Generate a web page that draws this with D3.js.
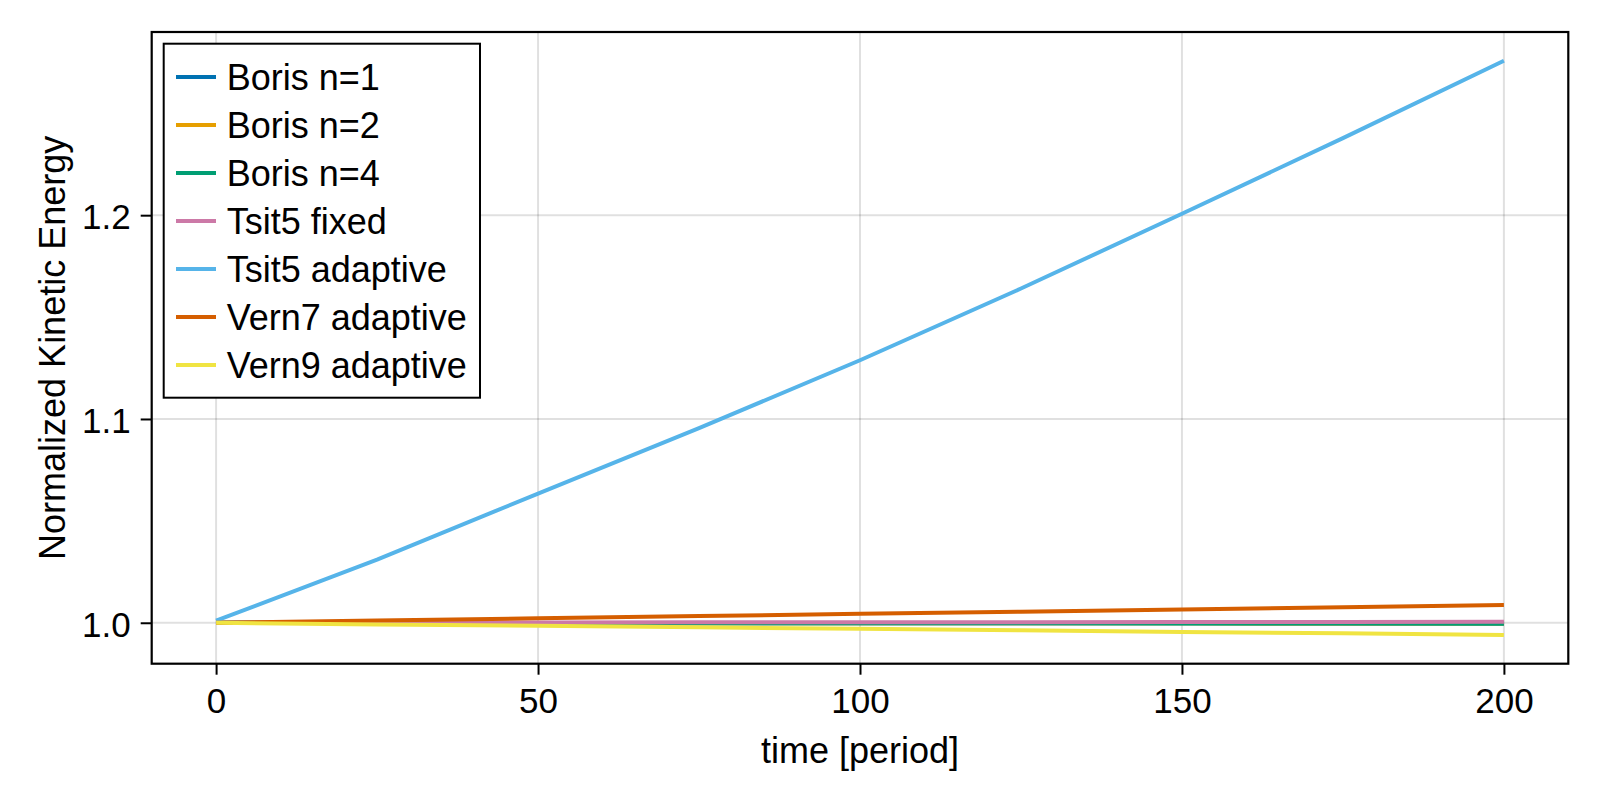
<!DOCTYPE html>
<html>
<head>
<meta charset="utf-8">
<script src="https://cdn.jsdelivr.net/npm/d3@7"></script>
<style>
  html, body { margin: 0; padding: 0; background: #fff; }
  svg { display: block; }
  text { font-family: "Liberation Sans", Arial, Helvetica, sans-serif; fill: #000; }
</style>
</head>
<body>
<svg id="chart" width="1600" height="800"></svg>
<script>
// ---- data ----
const time = [0, 25, 50, 75, 100, 125, 150, 175, 200];
const borisN1 = [1.0000, 1.0000, 0.9999, 0.9998, 0.9998, 0.9997, 0.9997, 0.9996, 0.9996];
const borisN2 = [1.0000, 1.0000, 0.9999, 0.9998, 0.9998, 0.9997, 0.9997, 0.9996, 0.9996];
const borisN4 = [1.0000, 0.9999, 0.9999, 0.9998, 0.9997, 0.9997, 0.9996, 0.9996, 0.9995];
const tsit5Fixed = [1.0000, 1.0001, 1.0001, 1.0002, 1.0003, 1.0003, 1.0004, 1.0004, 1.0005];
const tsit5Adaptive = [1.0010, 1.0310, 1.0634, 1.0955, 1.1288, 1.1640, 1.2007, 1.2378, 1.2758];
const vern7Adaptive = [1.0000, 1.0011, 1.0022, 1.0033, 1.0044, 1.0054, 1.0065, 1.0076, 1.0087];
const vern9Adaptive = [1.0000, 0.9992, 0.9985, 0.9978, 0.9970, 0.9963, 0.9955, 0.9948, 0.9940];

const seriesNames = ["Boris n=1", "Boris n=2", "Boris n=4", "Tsit5 fixed", "Tsit5 adaptive", "Vern7 adaptive", "Vern9 adaptive"];
const seriesValues = [borisN1, borisN2, borisN4, tsit5Fixed, tsit5Adaptive, vern7Adaptive, vern9Adaptive];
const seriesColors = ["#0072B2", "#E69F00", "#009E73", "#CC79A7", "#56B4E9", "#D55E00", "#F0E442"];

const xTicks = [0, 50, 100, 150, 200];
const yTicks = [1.0, 1.1, 1.2];
const xLabel = "time [period]";
const yLabel = "Normalized Kinetic Energy";

// ---- layout ----
const plot = { left: 151.7, top: 32, right: 1568.3, bottom: 663.7 };
const svg = d3.select("#chart");

const xMin = d3.min(time), xMax = d3.max(time);
const allY = seriesValues.flat();
const yMin = d3.min(allY), yMax = d3.max(allY);
const xPad = (xMax - xMin) * 0.05, yPad = (yMax - yMin) * 0.05;

const x = d3.scaleLinear().domain([xMin - xPad, xMax + xPad]).range([plot.left, plot.right]);
const y = d3.scaleLinear().domain([yMin - yPad, yMax + yPad]).range([plot.bottom, plot.top]);

// grid
const grid = svg.append("g");
grid.selectAll(".gx").data(xTicks).enter().append("line")
  .attr("x1", d => x(d)).attr("x2", d => x(d))
  .attr("y1", plot.top).attr("y2", plot.bottom)
  .attr("stroke", "rgba(0,0,0,0.12)").attr("stroke-width", 2);
grid.selectAll(".gy").data(yTicks).enter().append("line")
  .attr("y1", d => y(d)).attr("y2", d => y(d))
  .attr("x1", plot.left).attr("x2", plot.right)
  .attr("stroke", "rgba(0,0,0,0.12)").attr("stroke-width", 2);

// clip
svg.append("clipPath").attr("id", "clip").append("rect")
  .attr("x", plot.left).attr("y", plot.top)
  .attr("width", plot.right - plot.left).attr("height", plot.bottom - plot.top);

const line = d3.line().x((d, i) => x(time[i])).y(d => y(d));
const lines = svg.append("g").attr("clip-path", "url(#clip)");
seriesValues.forEach((vals, k) => {
  lines.append("path")
    .datum(vals)
    .attr("d", line)
    .attr("fill", "none")
    .attr("stroke", seriesColors[k])
    .attr("stroke-width", 4)
    .attr("stroke-linejoin", "round")
    .attr("stroke-linecap", "butt");
});

// frame
svg.append("rect")
  .attr("x", plot.left).attr("y", plot.top)
  .attr("width", plot.right - plot.left).attr("height", plot.bottom - plot.top)
  .attr("fill", "none").attr("stroke", "#000").attr("stroke-width", 2.2);

// x axis
const xAxis = d3.axisBottom(x).tickValues(xTicks).tickFormat(d3.format("d")).tickSize(11).tickPadding(6);
const gx = svg.append("g").attr("transform", `translate(0,${plot.bottom})`).call(xAxis);
gx.select(".domain").remove();
gx.selectAll(".tick line").attr("stroke", "#000").attr("stroke-width", 2);
gx.selectAll(".tick text").attr("font-size", 35).attr("font-family", "Liberation Sans, Arial, sans-serif")
  .attr("fill", "#000").attr("dy", null).attr("y", 49.6);

// y axis
const yAxis = d3.axisLeft(y).tickValues(yTicks).tickFormat(d3.format(".1f")).tickSize(11).tickPadding(10);
const gy = svg.append("g").attr("transform", `translate(${plot.left},0)`).call(yAxis);
gy.select(".domain").remove();
gy.selectAll(".tick line").attr("stroke", "#000").attr("stroke-width", 2);
gy.selectAll(".tick text").attr("font-size", 35).attr("font-family", "Liberation Sans, Arial, sans-serif")
  .attr("fill", "#000").attr("dy", null).attr("y", 13.5).attr("x", -21);

// axis labels
svg.append("text").attr("x", (plot.left + plot.right) / 2).attr("y", 763)
  .attr("text-anchor", "middle").attr("font-size", 36).text(xLabel);
svg.append("text").attr("transform", `translate(64.5,${(plot.top + plot.bottom) / 2}) rotate(-90)`)
  .attr("text-anchor", "middle").attr("font-size", 36).text(yLabel);

// legend
const legend = svg.append("g");
legend.append("rect").attr("x", 163.7).attr("y", 43.7).attr("width", 316.3).attr("height", 354)
  .attr("fill", "#fff").attr("stroke", "#000").attr("stroke-width", 2);
seriesNames.forEach((name, k) => {
  const cy = 77 + 48 * k;
  legend.append("line").attr("x1", 176).attr("x2", 216).attr("y1", cy).attr("y2", cy)
    .attr("stroke", seriesColors[k]).attr("stroke-width", 4);
  legend.append("text").attr("x", 226.7).attr("y", cy + 13).attr("font-size", 36).text(name);
});
</script>
</body>
</html>
